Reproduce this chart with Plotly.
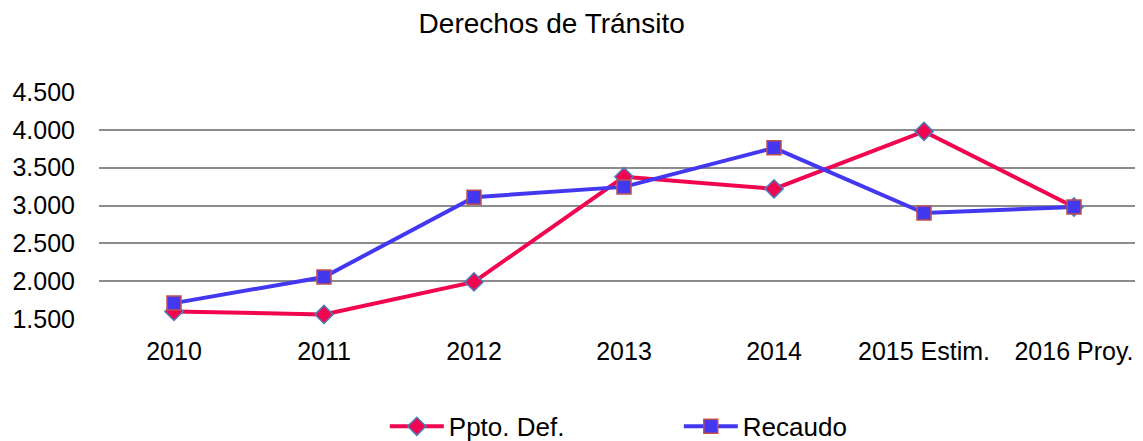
import plotly.graph_objects as go

categories = ["2010", "2011", "2012", "2013", "2014", "2015 Estim.", "2016 Proy."]
ppto_def = [1600, 1560, 1990, 3380, 3220, 3980, 2980]
recaudo = [1710, 2055, 3110, 3246, 3762, 2900, 2980]
y_ticks = [1500, 2000, 2500, 3000, 3500, 4000, 4500]
y_tick_labels = ["1.500", "2.000", "2.500", "3.000", "3.500", "4.000", "4.500"]

fig = go.Figure()
fig.add_trace(go.Scatter(
    x=categories, y=ppto_def, name="Ppto. Def.", mode="lines+markers",
    line=dict(color="#F2054F", width=4),
    marker=dict(symbol="diamond", size=14, color="#F2054F",
                line=dict(color="#4A7EBB", width=1.5)),
    cliponaxis=False,
))
fig.add_trace(go.Scatter(
    x=categories, y=recaudo, name="Recaudo", mode="lines+markers",
    line=dict(color="#4338F0", width=4),
    marker=dict(symbol="square", size=14, color="#4338F0",
                line=dict(color="#C0504D", width=1.5)),
    cliponaxis=False,
))

fig.update_layout(
    width=1135, height=450,
    paper_bgcolor="white", plot_bgcolor="white",
    margin=dict(l=91, r=0, t=84, b=139),
    title=dict(text="Derechos de Tránsito", x=0.479, xanchor="center", y=0.966, yanchor="middle",
               font=dict(family="Liberation Sans, Arial", size=28, color="black")),
    font=dict(family="Liberation Sans, Arial", size=25, color="black"),
    showlegend=True,
    legend=dict(orientation="h", x=0.332, xref="container", xanchor="left",
                y=0.018, yref="container", yanchor="bottom",
                font=dict(size=26), entrywidth=225, itemwidth=54),
    xaxis=dict(range=[-0.5, 6.46], showgrid=False, showline=False, ticks="",
               tickfont=dict(size=25), ticklabelstandoff=15),
    yaxis=dict(range=[1500, 4500], tickvals=y_ticks, ticktext=y_tick_labels,
               showgrid=True, gridcolor="#8C8C8C", gridwidth=1.5,
               zeroline=False, showline=False, ticks="", tickfont=dict(size=25),
               ticklabelstandoff=23),
)

fig.write_html("out.html")
